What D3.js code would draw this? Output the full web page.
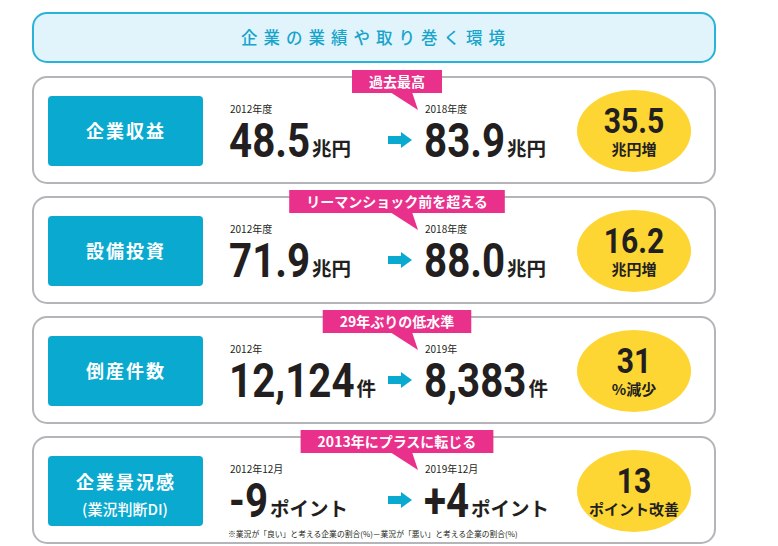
<!DOCTYPE html>
<html>
<head>
<meta charset="utf-8">
<script src="https://cdn.jsdelivr.net/npm/d3@7"></script>
<style>
  body { margin: 0; background: #fff; }
  svg { display: block; }
  .jp { font-family: "Noto Sans CJK JP", "Noto Sans", sans-serif; }
  .num { font-family: "Roboto", "Liberation Sans", sans-serif; font-weight: 700; }
</style>
</head>
<body>
<div id="chart"></div>
<script>
var title = "企業の業績や取り巻く環境";
var labels = [["企業収益"], ["設備投資"], ["倒産件数"], ["企業景況感", "(業況判断DI)"]];
var callouts = ["過去最高", "リーマンショック前を超える", "29年ぶりの低水準", "2013年にプラスに転じる"];
var fromYears = ["2012年度", "2012年度", "2012年", "2012年12月"];
var fromValues = ["48.5", "71.9", "12,124", "-9"];
var toYears = ["2018年度", "2018年度", "2019年", "2019年12月"];
var toValues = ["83.9", "88.0", "8,383", "+4"];
var units = ["兆円", "兆円", "件", "ポイント"];
var changeValues = ["35.5", "16.2", "31", "13"];
var changeUnits = ["兆円増", "兆円増", "%減少", "ポイント改善"];
var footnote = "※業況が「良い」と考える企業の割合(%)－業況が「悪い」と考える企業の割合(%)";

var W = 778, H = 546;
var CYAN = "#0aaad0", PINK = "#e9318b", YELLOW = "#fdd633", GREY = "#b5b5b9", INK = "#231f20";
var SQUEEZE = 0.84;

var svg = d3.select("#chart").append("svg").attr("width", W).attr("height", H);

// header
svg.append("rect").attr("x", 33).attr("y", 13).attr("width", 682).attr("height", 49)
  .attr("rx", 14).attr("fill", "#e1f4fc").attr("stroke", "#2ab3d8").attr("stroke-width", 2);
svg.append("text").attr("class", "jp").attr("x", 376).attr("y", 44)
  .attr("text-anchor", "middle").attr("font-size", 16.5).attr("font-weight", 500)
  .attr("letter-spacing", 6).attr("fill", "#18a4cb").text(title);

var rows = d3.range(labels.length);
var y = d3.scaleBand().domain(rows).range([77, 543]).paddingInner(14 / 120).paddingOuter(0);

var g = svg.selectAll("g.row").data(rows).join("g").attr("class", "row")
  .attr("transform", function(d){ return "translate(0," + y(d) + ")"; });

g.append("rect").attr("x", 33).attr("y", 0).attr("width", 682).attr("height", y.bandwidth())
  .attr("rx", 14).attr("fill", "#fff").attr("stroke", GREY).attr("stroke-width", 2);

// label box
g.append("rect").attr("x", 48).attr("y", 19).attr("width", 155).attr("height", 70)
  .attr("rx", 4).attr("fill", CYAN);
g.each(function(d){
  var lines = labels[d];
  var t = d3.select(this).append("text").attr("class", "jp").attr("text-anchor", "middle")
    .attr("fill", "#fff").attr("font-weight", 700);
  if (lines.length === 1) {
    t.append("tspan").attr("x", 126).attr("y", 61).attr("font-size", 18).attr("letter-spacing", 2).text(lines[0]);
  } else {
    t.append("tspan").attr("x", 126).attr("y", 52).attr("font-size", 18).attr("letter-spacing", 2).text(lines[0]);
    t.append("tspan").attr("x", 125).attr("y", 78).attr("font-size", 15).attr("font-weight", 500).text(lines[1]);
  }
});

// value blocks
function valueBlock(sel, x0, years, values) {
  sel.append("text").attr("class", "jp").attr("x", x0).attr("y", 36)
    .attr("font-size", 10).attr("fill", INK).text(function(d){ return years[d]; });
  sel.each(function(d){
    var n = d3.select(this).append("text").attr("class", "num")
      .attr("transform", "translate(" + (x0 - 1) + ",80) scale(" + SQUEEZE + ",1)")
      .attr("font-size", 48).attr("fill", INK).text(values[d]);
    var w = n.node().getComputedTextLength() * SQUEEZE;
    d3.select(this).append("text").attr("class", "jp").attr("x", x0 + w + 1).attr("y", 79)
      .attr("font-size", 19.5).attr("font-weight", 700).attr("fill", INK).text(units[d]);
  });
}
valueBlock(g, 230, fromYears, fromValues);
valueBlock(g, 425, toYears, toValues);

// arrow
g.append("path").attr("fill", CYAN)
  .attr("d", "M388,59 L401,59 L401,55 L412,63 L401,71 L401,67 L388,67 Z");

// change ellipse
g.append("ellipse").attr("cx", 634).attr("cy", 54).attr("rx", 57).attr("ry", 41).attr("fill", YELLOW);
g.append("text").attr("class", "num").attr("transform", "translate(634,56) scale(0.86,1)")
  .attr("text-anchor", "middle").attr("font-size", 35).attr("fill", INK)
  .text(function(d){ return changeValues[d]; });
g.append("text").attr("class", "jp").attr("x", 634).attr("y", 78).attr("text-anchor", "middle")
  .attr("font-size", 15).attr("font-weight", 700).attr("fill", INK).text(function(d){ return changeUnits[d]; });

// callouts
g.each(function(d){
  var c = d3.select(this).append("g");
  var bg = c.append("rect").attr("fill", PINK);
  c.append("path").attr("fill", PINK).attr("d", "M390,15 L412,15 L418,33 Z");
  var t = c.append("text").attr("class", "jp").attr("x", 397).attr("y", 10).attr("text-anchor", "middle")
    .attr("font-size", 14).attr("font-weight", 700).attr("fill", "#fff").text(callouts[d]);
  var w = t.node().getComputedTextLength() + 34;
  bg.attr("x", 397 - w / 2).attr("y", -7).attr("width", w).attr("height", 23);
});

svg.append("text").attr("class", "jp").attr("x", 228).attr("y", 537)
  .attr("font-size", 7.8).attr("fill", INK).text(footnote);
</script>
</body>
</html>
